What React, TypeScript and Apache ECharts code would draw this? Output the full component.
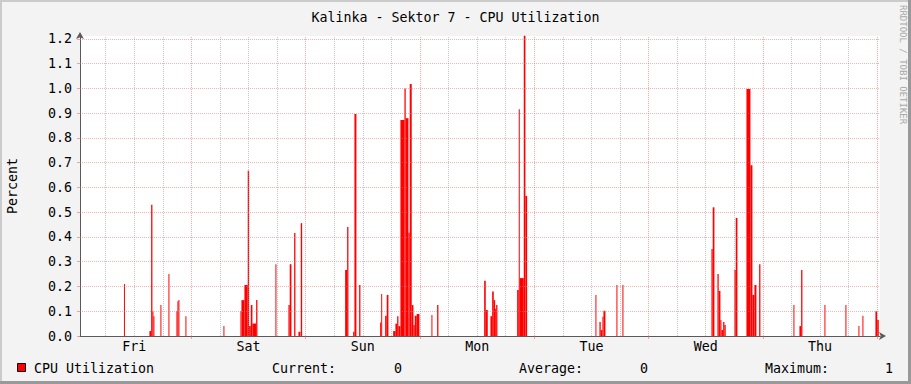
import React, { useEffect, useRef } from "react";
import * as echarts from "echarts";

// Time in hours since Friday 00:00; visible window ~0.6h .. 168.6h
const xStart = 0.6;
const xEnd = 168.6;
const dayNames = ["Fri", "Sat", "Sun", "Mon", "Tue", "Wed", "Thu"];
const dayNoonHours = [12, 36, 60, 84, 108, 132, 156];
const midnightHours = [24, 48, 72, 96, 120, 144, 168];
const minorHours = [6, 12, 18, 30, 36, 42, 54, 60, 66, 78, 84, 90, 102, 108, 114, 126, 132, 138, 150, 156, 162];
const yTicks = [0, 0.1, 0.2, 0.3, 0.4, 0.5, 0.6, 0.7, 0.8, 0.9, 1.0, 1.1, 1.2];
const yMax = 1.2121;

// [startHour, endHour, percent]
const cpuSegments: [number, number, number][] = [
  // Fri
  [9.83, 10.04, 0.21],
  [15.18, 15.54, 0.02],
  [15.54, 15.81, 0.53],
  [15.81, 16.02, 0.1],
  [16.02, 16.23, 0.08],
  [17.49, 17.7, 0.125],
  [19.17, 19.38, 0.25],
  [20.85, 21.06, 0.1],
  [21.06, 21.27, 0.14],
  [21.27, 21.48, 0.145],
  [22.74, 22.95, 0.08],
  // Sat
  [30.72, 30.93, 0.04],
  [34.29, 34.5, 0.1],
  [34.5, 35.13, 0.145],
  [35.13, 35.82, 0.206],
  [35.82, 36.12, 0.668],
  [36.12, 36.46, 0.04],
  [36.46, 36.81, 0.125],
  [36.81, 37.59, 0.05],
  [37.59, 37.86, 0.145],
  [41.64, 41.85, 0.29],
  [44.37, 44.64, 0.125],
  [44.64, 45.0, 0.29],
  [45.57, 45.84, 0.416],
  [46.47, 46.89, 0.017],
  [46.96, 47.25, 0.456],
  // Sun
  [56.28, 56.7, 0.267],
  [56.7, 56.97, 0.44],
  [57.96, 58.23, 0.017],
  [58.23, 58.65, 0.897],
  [59.22, 59.49, 0.206],
  [63.63, 63.85, 0.055],
  [63.85, 64.0, 0.17],
  [64.68, 65.01, 0.082],
  [65.01, 65.37, 0.166],
  [66.36, 66.84, 0.02],
  [66.84, 67.2, 0.05],
  [67.2, 67.47, 0.08],
  [67.47, 67.89, 0.04],
  [67.89, 68.73, 0.873],
  [68.73, 69.0, 1.0],
  [69.0, 69.57, 0.88],
  [69.57, 69.84, 0.417],
  [69.84, 70.26, 1.018],
  [70.26, 70.62, 0.125],
  [70.62, 70.89, 0.044],
  [70.89, 71.31, 0.082],
  [71.31, 71.88, 0.089],
  [74.4, 74.61, 0.085],
  [75.6, 75.87, 0.125],
  // Mon
  [85.47, 85.81, 0.223],
  [85.81, 86.23, 0.105],
  [86.79, 87.15, 0.08],
  [87.15, 87.49, 0.18],
  [87.49, 87.78, 0.145],
  [87.78, 87.99, 0.11],
  [87.99, 88.26, 0.125],
  [92.4, 92.74, 0.186],
  [92.74, 92.95, 0.916],
  [92.95, 93.79, 0.234],
  [93.79, 94.14, 1.213],
  [94.14, 94.5, 0.566],
  // Tue
  [108.84, 109.05, 0.166],
  [109.68, 109.95, 0.057],
  [109.95, 110.31, 0.024],
  [110.31, 110.52, 0.078],
  [110.52, 110.94, 0.102],
  [113.25, 113.46, 0.206],
  [114.51, 114.72, 0.206],
  // Wed
  [133.2, 133.47, 0.352],
  [133.47, 133.83, 0.52],
  [134.46, 134.73, 0.25],
  [134.73, 135.09, 0.182],
  [135.09, 135.3, 0.065],
  [135.3, 135.66, 0.024],
  [135.66, 135.93, 0.057],
  [135.93, 136.2, 0.044],
  [138.03, 138.3, 0.267],
  [138.3, 138.66, 0.477],
  [140.55, 141.39, 0.998],
  [141.39, 141.81, 0.69],
  [141.81, 142.23, 0.166],
  [142.23, 142.65, 0.206],
  [143.22, 143.49, 0.29],
  // Thu
  [150.42, 150.63, 0.125],
  [151.68, 152.04, 0.04],
  [152.04, 152.31, 0.267],
  [156.93, 157.14, 0.125],
  [161.34, 161.55, 0.125],
  [164.07, 164.28, 0.04],
  [164.91, 165.12, 0.082],
  [167.64, 168.0, 0.1],
  [168.0, 168.34, 0.065],
];

const legendLabel = "CPU Utilization";
const legendStats = [
  { label: "Current:", value: "0" },
  { label: "Average:", value: "0" },
  { label: "Maximum:", value: "1" },
];

const MONO = "'DejaVu Sans Mono', monospace";
const FS = 13.3;

export default function App() {
  const ref = useRef<HTMLDivElement>(null);
  useEffect(() => {
    document.body.style.margin = "0";
    if (!ref.current) return;
    const chart = echarts.init(ref.current, null, { renderer: "svg" });

    const majorGrid = "rgba(255,90,90,0.55)";
    const minorGrid = "rgba(150,150,150,0.55)";

    const gridLineData: any[] = [
      ...minorHours.map((h) => ({ xAxis: h, lineStyle: { color: minorGrid } })),
      ...midnightHours.map((h) => ({ xAxis: h, lineStyle: { color: majorGrid } })),
      ...yTicks.filter((v) => v > 0).map((v) => ({ yAxis: v, lineStyle: { color: "rgba(230,110,110,0.5)" } })),
    ];

    const statX = [272, 519, 765];
    const valX = [394, 640, 885];

    const graphics: any[] = [
      // frame shading
      { type: "rect", shape: { x: 0, y: 0, width: 911, height: 2 }, style: { fill: "#cbcbcb" }, silent: true },
      { type: "rect", shape: { x: 0, y: 0, width: 2, height: 384 }, style: { fill: "#cbcbcb" }, silent: true },
      { type: "rect", shape: { x: 0, y: 381, width: 911, height: 3 }, style: { fill: "#999999" }, silent: true },
      { type: "rect", shape: { x: 908, y: 0, width: 3, height: 384 }, style: { fill: "#999999" }, silent: true },
      // watermark
      {
        type: "text",
        x: 903,
        y: 5,
        rotation: -Math.PI / 2,
        style: { text: "RRDTOOL / TOBI OETIKER", fill: "#a8a8a8", font: `9px ${MONO}`, textVerticalAlign: "middle", textAlign: "left" },
        silent: true,
      },
      // legend
      { type: "rect", shape: { x: 17.5, y: 363.5, width: 8, height: 8 }, style: { fill: "#ff0000", stroke: "#000", lineWidth: 1 }, silent: true },
      { type: "text", x: 34, y: 368, style: { text: legendLabel, fill: "#000", font: `${FS}px ${MONO}`, textVerticalAlign: "middle" }, silent: true },
      ...legendStats.map((s, i) => ({
        type: "text",
        x: statX[i],
        y: 368,
        style: { text: s.label, fill: "#000", font: `${FS}px ${MONO}`, textVerticalAlign: "middle" },
        silent: true,
      })),
      ...legendStats.map((s, i) => ({
        type: "text",
        x: valX[i],
        y: 368,
        style: { text: s.value, fill: "#000", font: `${FS}px ${MONO}`, textVerticalAlign: "middle" },
        silent: true,
      })),
    ];

    chart.setOption({
      animation: false,
      backgroundColor: "#f3f3f3",
      title: {
        text: "Kalinka - Sektor 7 - CPU Utilization",
        left: "center",
        top: 6,
        textStyle: { fontFamily: MONO, fontSize: FS, fontWeight: "normal", color: "#000" },
      },
      grid: {
        left: 80,
        top: 36,
        width: 800,
        height: 300,
        backgroundColor: "#ffffff",
        show: true,
        borderWidth: 0,
        containLabel: false,
        outerBoundsMode: "none",
      },
      xAxis: {
        type: "value",
        min: xStart,
        max: xEnd,
        axisLine: {
          show: true,
          lineStyle: { color: "#5a5a5a", width: 1 },
          symbol: ["none", "arrow"],
          symbolSize: [6, 7],
          symbolOffset: [0, 6],
        },
        axisTick: { show: true, inside: false, length: 3, customValues: midnightHours, lineStyle: { color: majorGrid } },
        axisLabel: {
          customValues: dayNoonHours,
          formatter: (v: number) => {
            const i = dayNoonHours.indexOf(Math.round(v));
            return i >= 0 ? dayNames[i] : "";
          },
          fontFamily: MONO,
          fontSize: FS,
          color: "#000",
          margin: 4,
        },
        splitLine: { show: false },
      },
      yAxis: {
        type: "value",
        min: 0,
        max: yMax,
        name: "Percent",
        nameLocation: "middle",
        nameGap: 61,
        nameRotate: 90,
        nameTextStyle: { fontFamily: MONO, fontSize: FS, color: "#000" },
        axisLine: {
          show: true,
          lineStyle: { color: "#5a5a5a", width: 1 },
          symbol: ["none", "arrow"],
          symbolSize: [6, 7],
          symbolOffset: [0, 4],
        },
        axisTick: { show: true, length: 3, customValues: yTicks, lineStyle: { color: majorGrid } },
        axisLabel: {
          customValues: yTicks,
          formatter: (v: number) => v.toFixed(1),
          fontFamily: MONO,
          fontSize: FS,
          color: "#000",
          margin: 8,
        },
        splitLine: { show: false },
      },
      graphic: graphics,
      series: [
        {
          type: "line",
          data: [],
          z: 1,
          silent: true,
          markLine: {
            silent: true,
            symbol: "none",
            label: { show: false },
            lineStyle: { type: [1, 1], width: 1 },
            data: gridLineData,
          },
        },
        {
          type: "custom",
          z: 3,
          clip: false,
          data: cpuSegments,
          encode: { x: [0, 1], y: 2 },
          renderItem: (params: any, api: any) => {
            const p0 = api.coord([api.value(0), api.value(2)]);
            const p1 = api.coord([api.value(1), 0]);
            return {
              type: "rect",
              shape: { x: p0[0], y: p0[1], width: Math.max(1, p1[0] - p0[0]), height: p1[1] - p0[1] },
              style: { fill: "#ff0000" },
            };
          },
        },
      ],
    });
    return () => chart.dispose();
  }, []);
  return <div ref={ref} style={{ position: "fixed", left: 0, top: 0, width: 911, height: 384 }} />;
}
